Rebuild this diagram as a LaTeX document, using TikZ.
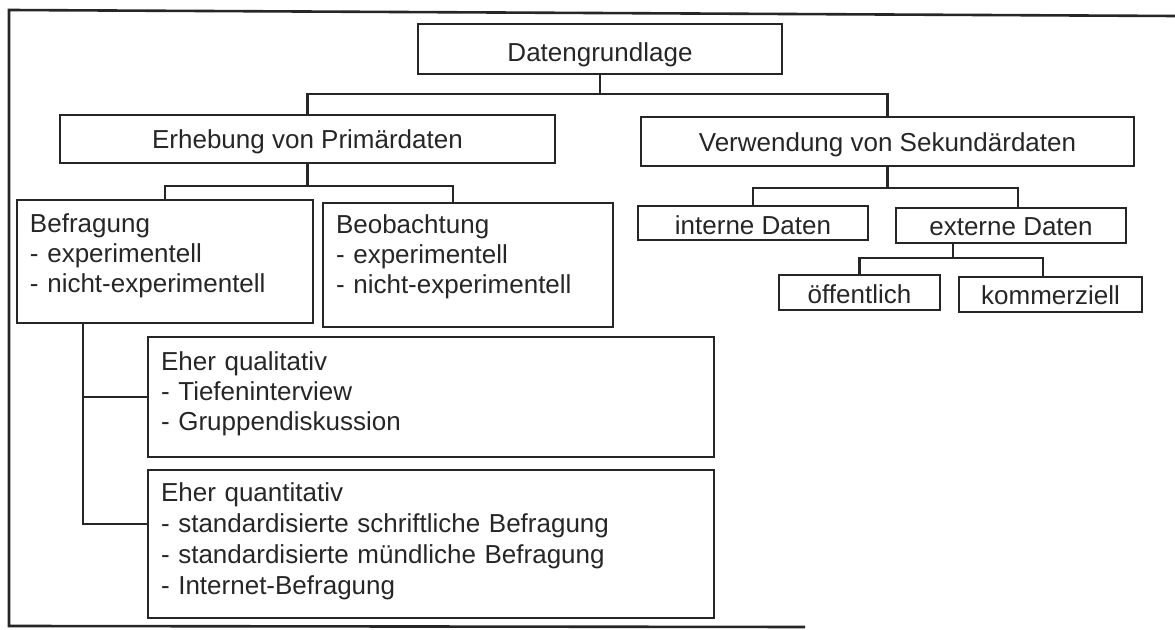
\documentclass[tikz,border=0pt]{standalone}
\usepackage{fontspec}
\setmainfont{Liberation Sans}
\usetikzlibrary{calc}
\definecolor{ink}{HTML}{262626}
\begin{document}
\begin{tikzpicture}[x=0.5pt,y=-0.5pt,
  every node/.style={font=\fontsize{13pt}{15pt}\selectfont, text=ink},
  box/.style={draw=ink, line width=1.2pt, rectangle, inner sep=0pt,
    text height=9.5pt, text depth=0pt},
  listbox/.style={draw=ink, line width=1.2pt, rectangle, inner xsep=6.5pt,
    inner ysep=0pt, align=left, text height=9.5pt},
  conn/.style={draw=ink, line width=1.1pt},
  frame/.style={draw=ink, line width=1.3pt}
]
\useasboundingbox (0,0) rectangle (1175,630);

% outer frame (open on the right)
\draw[frame] (1175,16) -- (9,10) -- (9,626) -- (805,627);

% top level
\node[box, minimum width=182pt, minimum height=25pt, text height=13pt]
  (root) at (600,49) {Datengrundlage};

% second level
\node[box, minimum width=247.5pt, minimum height=24pt, text height=10pt]
  (prim) at (307.5,139) {Erhebung von Prim\"ardaten};
\node[box, minimum width=246.5pt, minimum height=24.5pt, text height=10.5pt]
  (sek) at (887.5,141.5) {Verwendung von Sekund\"ardaten};

% primary data methods (text depth places the first line near the top)
\node[listbox, text width=135pt, minimum width=148pt, minimum height=61.5pt,
  text depth=38pt] (bef) at (165,261.5)
  {Befragung\\- experimentell\\- nicht-experimentell};
\node[listbox, text width=132pt, minimum width=145pt, minimum height=62pt,
  text depth=40.5pt] (beo) at (468,265)
  {Beobachtung\\- experimentell\\- nicht-experimentell};

% survey types
\node[listbox, text width=270pt, minimum width=283pt, minimum height=60pt,
  text depth=35.5pt] (qual) at (431,397)
  {Eher qualitativ\\- Tiefeninterview\\- Gruppendiskussion};
\node[listbox, text width=270pt, minimum width=283pt, minimum height=74pt,
  text depth=51.5pt, font=\fontsize{13pt}{15.5pt}\selectfont] (quant) at (431,544)
  {Eher quantitativ\\- standardisierte schriftliche Befragung\\- standardisierte m\"undliche Befragung\\- Internet-Befragung};

% secondary data sources
\node[box, minimum width=115pt, minimum height=17pt, text height=12pt]
  (intern) at (753,223) {interne Daten};
\node[box, minimum width=115pt, minimum height=17.5pt, text height=10.5pt]
  (extern) at (1011,225.5) {externe Daten};
\node[box, minimum width=80.5pt, minimum height=17.5pt, text height=11.5pt]
  (oeff) at (859.5,292.5) {\"offentlich};
\node[box, minimum width=91.5pt, minimum height=17.5pt, text height=10.5pt]
  (komm) at (1050.5,294.5) {kommerziell};

% connectors
\coordinate (j1) at ($(root.south)+(0,19)$);
\draw[conn] (root.south) -- (j1);
\draw[conn] (prim.north) |- (j1) -| (sek.north);

\coordinate (j2) at ($(prim.south)+(0,22)$);
\draw[conn] (prim.south) -- (j2);
\draw[conn] (bef.north) |- (j2) -| ([xshift=-7.5pt]beo.north);

\coordinate (j3) at ($(sek.south)+(0,21)$);
\draw[conn] (sek.south) -- (j3);
\draw[conn] (intern.north) |- (j3) -| ([xshift=3.5pt]extern.north);

\coordinate (es) at ([xshift=-29pt]extern.south);
\coordinate (j4) at ($(es)+(0,14)$);
\draw[conn] (es) -- (j4);
\draw[conn] (oeff.north) |- (j4) -| ([xshift=-3.75pt]komm.north);

\coordinate (bs) at ([xshift=-41pt]bef.south);
\draw[conn] (bs) |- ([yshift=10pt]quant.west);
\draw[conn] (bs) |- (qual.west);
\end{tikzpicture}
\end{document}
